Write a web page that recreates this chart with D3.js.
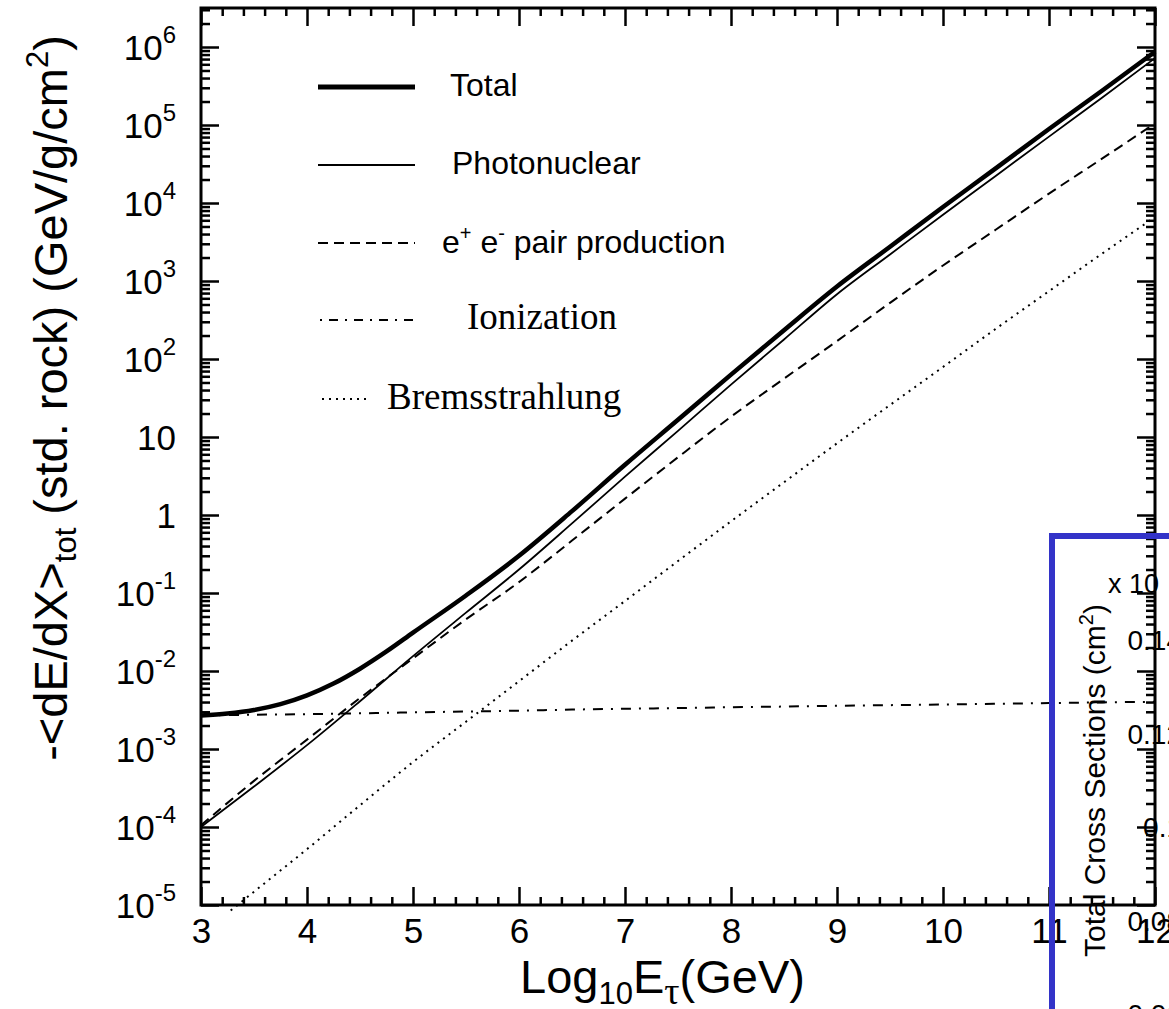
<!DOCTYPE html>
<html>
<head>
<meta charset="utf-8">
<script src="https://cdn.jsdelivr.net/npm/d3@7"></script>
<style>
  body { margin: 0; background: #fff; }
  svg { display: block; }
  text { font-family: "Liberation Sans", Arial, Helvetica, sans-serif; fill: #000; }
  .serif { font-family: "Liberation Serif", "Times New Roman", serif; }
</style>
</head>
<body>
<div id="vis"></div>
<script>
// log10 of tau energy (GeV)
const energy = [3, 3.5, 4, 4.5, 5, 5.5, 6, 6.5, 7, 7.5, 8, 8.5, 9, 9.5, 10, 10.5, 11, 11.5, 12];

// -<dE/dX> in GeV/g/cm2
const photonuclear = [1.0e-4, 3.3e-4, 1.12e-3, 4.1e-3, 1.55e-2, 5.6e-2, 0.20, 0.78, 3.1, 12, 47, 178, 676, 2190, 7080, 2.24e4, 7.1e4, 2.24e5, 7.2e5];
const pairProduction = [1.05e-4, 3.9e-4, 1.32e-3, 4.5e-3, 1.45e-2, 4.6e-2, 0.138, 0.47, 1.62, 5.5, 18.2, 56, 170, 525, 1580, 4570, 1.32e4, 3.7e4, 1.05e5];
const ionization = [2.7e-3, 2.75e-3, 2.8e-3, 2.87e-3, 2.95e-3, 3.02e-3, 3.1e-3, 3.2e-3, 3.28e-3, 3.35e-3, 3.43e-3, 3.5e-3, 3.58e-3, 3.65e-3, 3.72e-3, 3.8e-3, 3.88e-3, 3.96e-3, 4.03e-3];

// total is read more densely where it bends
const totalEnergy = [3, 3.25, 3.5, 3.75, 4, 4.25, 4.5, 4.75, 5, 5.5, 6, 6.5, 7, 7.5, 8, 8.5, 9, 9.5, 10, 10.5, 11, 11.5, 12];
const total = [2.69e-3, 2.85e-3, 3.16e-3, 3.76e-3, 4.87e-3, 6.9e-3, 1.07e-2, 1.78e-2, 3.1e-2, 9.3e-2, 0.30, 1.12, 4.4, 16.6, 63, 234, 850, 2750, 8900, 2.8e4, 8.9e4, 2.75e5, 8.7e5];

const bremsEnergy = [3.28, 3.5, 4, 4.5, 5, 5.5, 6, 6.5, 7, 7.5, 8, 8.5, 9, 9.5, 10, 10.5, 11, 11.5, 12];
const bremsstrahlung = [8.5e-6, 1.48e-5, 5.2e-5, 1.9e-4, 6.8e-4, 2.24e-3, 7.4e-3, 2.45e-2, 7.9e-2, 0.257, 0.83, 2.63, 8.3, 25.7, 79, 245, 741, 2240, 6600];

const xTicks = [3, 4, 5, 6, 7, 8, 9, 10, 11, 12];
const yExponents = [-5, -4, -3, -2, -1, 0, 1, 2, 3, 4, 5, 6];

// overlapping inset (cross-section plot) labels
const insetTickLabels = ["0.14", "0.12", "0.1", "0.08", "0.06"];

(function () {
    const W = 1169, H = 1009;
    const plotLeft = 201, plotRight = 1155, plotTop = 8, plotBottom = 905;

    const svg = d3.select("#vis").append("svg")
        .attr("width", W)
        .attr("height", H);

    const x = d3.scaleLinear().domain([3, 12]).range([plotLeft, plotRight]);
    const y = d3.scaleLog().domain([1e-5, Math.pow(10, 6.5)]).range([plotBottom, plotTop]);

    // ---- ticks ----
    const xMinor = d3.range(30, 121, 2).map(d => d / 10).filter(d => !Number.isInteger(d));
    const yMajor = yExponents.map(e => Math.pow(10, e));
    const yMinor = [];
    for (const e of yExponents) {
        for (let k = 2; k <= 9; k++) {
            const v = k * Math.pow(10, e);
            if (v < y.domain()[1]) yMinor.push(v);
        }
    }

    function addAxis(axis, tx, ty) {
        const g = svg.append("g").attr("transform", `translate(${tx},${ty})`).call(axis);
        g.select(".domain").remove();
        g.selectAll("line").attr("stroke", "#000").attr("stroke-width", 2.5);
        return g;
    }

    addAxis(d3.axisBottom(x).tickValues(xMinor).tickSizeInner(-8).tickSizeOuter(0).tickFormat(""), 0, plotBottom);
    addAxis(d3.axisTop(x).tickValues(xMinor).tickSizeInner(-8).tickSizeOuter(0).tickFormat(""), 0, plotTop);
    addAxis(d3.axisTop(x).tickValues(xTicks).tickSizeInner(-18).tickSizeOuter(0).tickFormat(""), 0, plotTop);
    const xAxisG = addAxis(d3.axisBottom(x).tickValues(xTicks).tickSizeInner(-18).tickSizeOuter(0)
        .tickPadding(13).tickFormat(d3.format("d")), 0, plotBottom);
    xAxisG.selectAll("text")
        .attr("font-size", 35)
        .attr("font-family", "Liberation Sans, Arial, sans-serif")
        .attr("fill", "#000");

    addAxis(d3.axisLeft(y).tickValues(yMinor).tickSizeInner(-9).tickSizeOuter(0).tickFormat(""), plotLeft, 0);
    addAxis(d3.axisLeft(y).tickValues(yMajor).tickSizeInner(-18).tickSizeOuter(0).tickFormat(""), plotLeft, 0);
    addAxis(d3.axisRight(y).tickValues(yMinor).tickSizeInner(-9).tickSizeOuter(0).tickFormat(""), plotRight, 0);
    addAxis(d3.axisRight(y).tickValues(yMajor).tickSizeInner(-18).tickSizeOuter(0).tickFormat(""), plotRight, 0);

    // y tick labels with superscripts
    yExponents.forEach(e => {
        const t = svg.append("text")
            .attr("x", 176)
            .attr("y", y(Math.pow(10, e)) + 12.5)
            .attr("text-anchor", "end")
            .attr("font-size", 35);
        if (e === 0) t.text("1");
        else if (e === 1) t.text("10");
        else {
            t.append("tspan").text("10");
            t.append("tspan").attr("font-size", 24).attr("dy", -17).text(e);
        }
    });

    // frame
    svg.append("rect")
        .attr("x", plotLeft).attr("y", plotTop)
        .attr("width", plotRight - plotLeft).attr("height", plotBottom - plotTop)
        .attr("fill", "none").attr("stroke", "#000").attr("stroke-width", 3);

    // ---- curves ----
    const line = d3.line()
        .x(d => x(d[0]))
        .y(d => y(d[1]))
        .curve(d3.curveMonotoneX);

    const series = [
        { name: "Bremsstrahlung", xs: bremsEnergy, ys: bremsstrahlung, width: 2, dash: "2,5" },
        { name: "Ionization", xs: energy, ys: ionization, width: 2, dash: "10,8,2,8" },
        { name: "Pair", xs: energy, ys: pairProduction, width: 2, dash: "10,6" },
        { name: "Photonuclear", xs: energy, ys: photonuclear, width: 1.8, dash: null },
        { name: "Total", xs: totalEnergy, ys: total, width: 4.5, dash: null }
    ];

    for (const s of series) {
        svg.append("path")
            .datum(d3.zip(s.xs, s.ys))
            .attr("fill", "none")
            .attr("stroke", "#000")
            .attr("stroke-width", s.width)
            .attr("stroke-dasharray", s.dash)
            .attr("d", line);
    }

    // ---- legend ----
    const legend = svg.append("g");
    function legendLine(x1, x2, yy, w, dash) {
        legend.append("line")
            .attr("x1", x1).attr("x2", x2).attr("y1", yy).attr("y2", yy)
            .attr("stroke", "#000").attr("stroke-width", w)
            .attr("stroke-dasharray", dash);
    }
    legendLine(318, 415, 87, 5, null);
    legendLine(318, 415, 165, 2, null);
    legendLine(318, 415, 243, 2, "10,6");
    legendLine(320, 415, 320, 2, "2,7,9,7");
    legendLine(322, 367, 399, 2, "2,5");

    legend.append("text").attr("x", 450).attr("y", 96).attr("font-size", 32).text("Total");
    legend.append("text").attr("x", 452).attr("y", 174).attr("font-size", 32).text("Photonuclear");
    const pairText = legend.append("text").attr("x", 442).attr("y", 253).attr("font-size", 32);
    pairText.append("tspan").text("e");
    pairText.append("tspan").attr("font-size", 20).attr("dy", -13).text("+");
    pairText.append("tspan").attr("dy", 13).text(" e");
    pairText.append("tspan").attr("font-size", 20).attr("dy", -13).text("-");
    pairText.append("tspan").attr("dy", 13).text(" pair production");
    legend.append("text").attr("class", "serif").attr("x", 467).attr("y", 329).attr("font-size", 37).text("Ionization");
    legend.append("text").attr("class", "serif").attr("x", 387).attr("y", 409).attr("font-size", 37).text("Bremsstrahlung");

    // ---- axis titles ----
    const xTitle = svg.append("text").attr("x", 520).attr("y", 993).attr("font-size", 47);
    xTitle.append("tspan").text("Log");
    xTitle.append("tspan").attr("font-size", 31).attr("dy", 11).text("10");
    xTitle.append("tspan").attr("dy", -11).text("E");
    xTitle.append("tspan").attr("class", "serif").attr("font-size", 38).attr("dy", 11).text("τ");
    xTitle.append("tspan").attr("dy", -11).text("(GeV)");

    const yTitle = svg.append("text")
        .attr("transform", "translate(67,398) rotate(-90)")
        .attr("text-anchor", "middle")
        .attr("font-size", 47);
    yTitle.append("tspan").text("-<dE/dX>");
    yTitle.append("tspan").attr("font-size", 31).attr("dy", 9).text("tot");
    yTitle.append("tspan").attr("dy", -9).text(" (std. rock) (GeV/g/cm");
    yTitle.append("tspan").attr("font-size", 31).attr("dy", -19).text("2");
    yTitle.append("tspan").attr("dy", 19).text(")");

    // ---- overlapping inset fragment ----
    const inset = svg.append("g");
    inset.append("rect")
        .attr("x", 1052).attr("y", 536)
        .attr("width", 400).attr("height", 600)
        .attr("fill", "none")
        .attr("stroke", "#3333c8")
        .attr("stroke-width", 6);

    const insetTitle = inset.append("text")
        .attr("transform", "translate(1105,957) rotate(-90)")
        .attr("font-size", 30);
    insetTitle.append("tspan").text("Total Cross Sections (cm");
    insetTitle.append("tspan").attr("font-size", 20).attr("dy", -12).text("2");
    insetTitle.append("tspan").attr("dy", 12).text(")");

    inset.append("text").attr("x", 1108).attr("y", 593).attr("font-size", 27).text("x 10");

    insetTickLabels.forEach((lab, i) => {
        inset.append("text")
            .attr("x", 1182)
            .attr("y", 650 + i * 93.5)
            .attr("text-anchor", "end")
            .attr("font-size", 28)
            .text(lab);
    });
})();
</script>
</body>
</html>
